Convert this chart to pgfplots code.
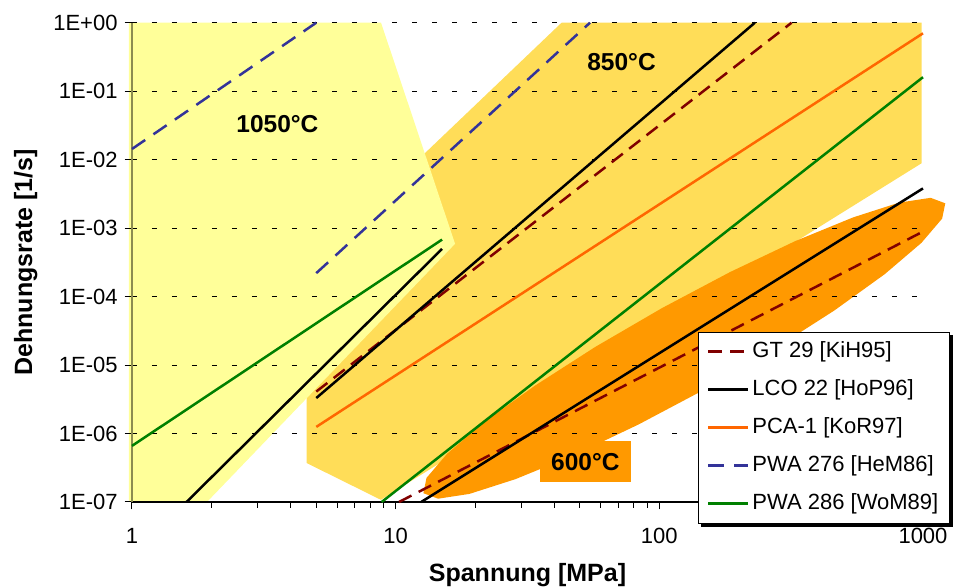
\documentclass[border=0pt]{standalone}
\usepackage{fontspec}
\setmainfont{Liberation Sans}
\usepackage{pgfplots}
\pgfplotsset{compat=1.18}

\definecolor{c1050}{RGB}{255,255,153}
\definecolor{c850}{RGB}{255,221,88}
\definecolor{c600}{RGB}{255,153,0}
\definecolor{gtred}{RGB}{128,0,0}
\definecolor{pwablue}{RGB}{51,51,153}
\definecolor{pcaorange}{RGB}{255,102,0}
\definecolor{pwagreen}{RGB}{0,128,0}
\definecolor{yaxcol}{RGB}{140,140,80}

\begin{document}
\begin{tikzpicture}
\begin{axis}[
  at={(0,0)}, anchor=south west,
  scale only axis, width=395.5pt, height=239.65pt,
  xmode=log, ymode=log,
  xmin=1, xmax=1000, ymin=1e-7, ymax=1,
  clip=false, set layers, no markers,
  axis x line*=bottom, axis y line*=left,
  x axis line style={black, line width=0.75pt},
  y axis line style={draw=yaxcol, line width=0.75pt},
  tick align=outside,
  major tick length=3.7pt, minor tick length=3pt,
  tick style={black, line width=0.5pt},
  xtick={1,10,100,1000}, xticklabels={1,10,100,1000},
  minor xtick={2,3,4,5,6,7,8,9,20,30,40,50,60,70,80,90,200,300,400,500,600,700,800,900},
  ytick={1e-7,1e-6,1e-5,1e-4,1e-3,1e-2,1e-1,1},
  yticklabels={1E-07,1E-06,1E-05,1E-04,1E-03,1E-02,1E-01,1E+00},
  yminorticks=false,
  ymajorgrids,
  major grid style={black, line width=0.5pt, dash pattern=on 2.5pt off 7.5pt},
  ticklabel style={font=\fontsize{11}{13}\selectfont},
  xticklabel style={anchor=base, yshift=-17pt},
  yticklabel style={anchor=east},
  xlabel={Spannung [MPa]}, ylabel={Dehnungsrate [1/s]},
  label style={font=\bfseries\fontsize{12.5}{15}\selectfont},
  xlabel style={at={(axis description cs:0.5,-0.1669)}, anchor=base},
  ylabel style={at={(axis description cs:-0.1264,0.5)}, anchor=base, rotate=0},
  legend style={name=leg, at={(rel axis cs:0.7161,0.3555)}, anchor=north west,
    draw=black, line width=0.5pt, fill=white,
    font=\fontsize{11}{13}\selectfont, row sep=6pt,
    inner xsep=4pt, inner ysep=3.3pt,
    nodes={inner sep=1.5pt, text height=8pt, text depth=2pt, anchor=west},
    cells={anchor=west}},
  legend image code/.code={\draw[#1, line width=1.25pt] (0pt,0pt) -- (20pt,0pt);},
]
% 850 C region
\addplot[fill=c850, draw=none, forget plot, on layer=axis background] coordinates {
 (4.60,2.8e-4) (42.6,1) (988,1) (988,8.86e-3) (8.79,1.076e-7) (4.60,3.7e-7) (4.60,2.8e-4)};
% 1050 C region
\addplot[fill=c1050, draw=none, forget plot, on layer=axis background] coordinates {
 (0.974,1) (8.80,1) (16.8,5.9e-4) (1.925,1e-7) (0.974,1e-7) (0.974,1)};
% 600 C region
\addplot[fill=c600, draw=none, forget plot, on layer=axis background] coordinates {
 (1215,2.301e-3) (1069,2.769e-3) (811.8,2.357e-3) (543.2,1.433e-3) (328.4,6.481e-4)
 (185.7,2.286e-4) (102.4,6.794e-5) (57.13,1.837e-5) (33.63,4.954e-6) (21.62,1.457e-6)
 (15.68,5.072e-7) (13.09,2.247e-7) (12.74,1.344e-7) (14.48,1.117e-7) (19.06,1.313e-7)
 (28.49,2.159e-7) (47.16,4.774e-7) (83.33,1.353e-6) (151.1,4.553e-6) (270.8,1.684e-5)
 (460.6,6.246e-5) (715.9,2.123e-4) (987.0,6.10e-4) (1182,1.376e-3) (1215,2.301e-3)};

% GT 29
\addplot[gtred, line width=1.25pt, dash pattern=on 7pt off 4pt] coordinates {(5,4.1e-6) (317.5,1)};
\addlegendentry{GT 29 [KiH95]}
\addplot[gtred, line width=1.25pt, dash pattern=on 7pt off 4pt, forget plot] coordinates {(10.3,1e-7) (1000,8.9e-4)};
% LCO 22
\addplot[black, line width=1.25pt] coordinates {(5,3.3e-6) (230.4,1)};
\addlegendentry{LCO 22 [HoP96]}
\addplot[black, line width=1.25pt, forget plot] coordinates {(1.61,1e-7) (15,4.97e-4)};
\addplot[black, line width=1.25pt, forget plot] coordinates {(12.5,1e-7) (1000,3.8e-3)};
% PCA-1
\addplot[pcaorange, line width=1.25pt] coordinates {(5,1.25e-6) (1000,0.70)};
\addlegendentry{PCA-1 [KoR97]}
% PWA 276
\addplot[pwablue, line width=1.25pt, dash pattern=on 8pt off 5pt] coordinates {(1,1.43e-2) (5.0,1)};
\addlegendentry{PWA 276 [HeM86]}
\addplot[pwablue, line width=1.25pt, dash pattern=on 8pt off 5pt, forget plot] coordinates {(5,2.2e-4) (54.6,1)};
% PWA 286
\addplot[pwagreen, line width=1.25pt] coordinates {(1,6.6e-7) (15,6.8e-4)};
\addlegendentry{PWA 286 [WoM89]}
\addplot[pwagreen, line width=1.25pt, forget plot] coordinates {(8.85,1e-7) (1000,0.16)};

\node[font=\bfseries\fontsize{12.25}{14}\selectfont] at (axis cs:3.56,0.0332) {1050°C};
\node[font=\bfseries\fontsize{12.25}{14}\selectfont] at (axis cs:71.9,0.262) {850°C};
\node[fill=c600, minimum width=45.3pt, minimum height=20.5pt, inner sep=0pt,
      font=\bfseries\fontsize{12.25}{14}\selectfont] at (axis cs:52.4,3.84e-7) {600°C};
\end{axis}
% legend shadow
\fill[black] ([yshift=-1.5pt]leg.north east) rectangle ([xshift=1.6pt,yshift=-1.6pt]leg.south east);
\fill[black] ([xshift=1.5pt]leg.south west) rectangle ([xshift=1.6pt,yshift=-1.6pt]leg.south east);
\pgfresetboundingbox
\path[use as bounding box] (-66pt,-42.5pt) rectangle (411pt,251pt);
\end{tikzpicture}
\end{document}
